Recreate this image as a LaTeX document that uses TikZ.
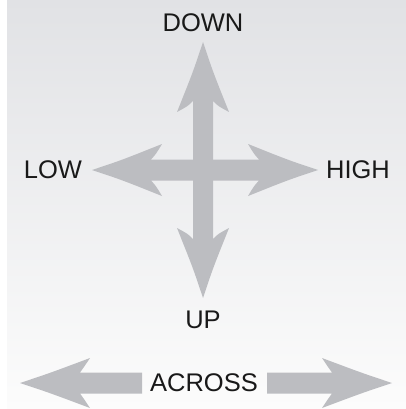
\documentclass[tikz,border=0pt]{standalone}
\usepackage{fontspec}
\setmainfont{Liberation Sans}
\definecolor{arrowgray}{RGB}{188,189,193}
\definecolor{bgtop}{RGB}{225,226,229}
\definecolor{bgbot}{RGB}{252,252,252}
\tikzset{
  arr/.style={fill=arrowgray, draw=none},
  lbl/.style={font=\fontsize{25.5}{29}\selectfont, text=black!90, inner sep=0pt}
}
\begin{document}
\begin{tikzpicture}[x=1pt,y=-1pt]
\useasboundingbox (0,0) rectangle (406,409);
\fill[white] (0,0) rectangle (406,409);
\shade[top color=bgtop, bottom color=bgbot] (7,0) rectangle (406,409);
% vertical double arrow
\path[arr] (203,42) .. controls (213,72) .. (229,112)
  .. controls (218,106) .. (213,101) -- (213,239)
  .. controls (218,234) .. (229,228) .. controls (213,268) .. (203,298)
  .. controls (193,268) .. (177,228) .. controls (188,234) .. (193,239)
  -- (193,101) .. controls (188,106) .. (177,112) .. controls (193,72) .. (203,42) -- cycle;
% horizontal double arrow
\path[arr] (92,170) .. controls (122,160) .. (162,144)
  .. controls (156,154) .. (151,159.5) -- (259,159.5)
  .. controls (254,154) .. (248,144) .. controls (288,160) .. (318,170)
  .. controls (288,180) .. (248,196) .. controls (254,186) .. (259,180.5)
  -- (151,180.5) .. controls (156,186) .. (162,196) .. controls (122,180) .. (92,170) -- cycle;
% bottom across arrow (two halves)
\path[arr] (20,383) .. controls (50,373) .. (90,358)
  .. controls (84,367) .. (80,372.5) -- (142,372.5) -- (142,393.5) -- (80,393.5)
  .. controls (84,399) .. (90,408) .. controls (50,393) .. (20,383) -- cycle;
\path[arr] (392,383) .. controls (362,373) .. (322,358)
  .. controls (328,367) .. (332,372.5) -- (267,372.5) -- (267,393.5) -- (332,393.5)
  .. controls (328,399) .. (322,408) .. controls (362,393) .. (392,383) -- cycle;
% labels
\node[lbl] (down) at (203,23) {DOWN};
\node[lbl] (low) at (53,170) {LOW};
\node[lbl] (high) at (358,170) {HIGH};
\node[lbl] (up) at (203,320) {UP};
\node[lbl] (across) at (204,383) {ACROSS};
\end{tikzpicture}
\end{document}
